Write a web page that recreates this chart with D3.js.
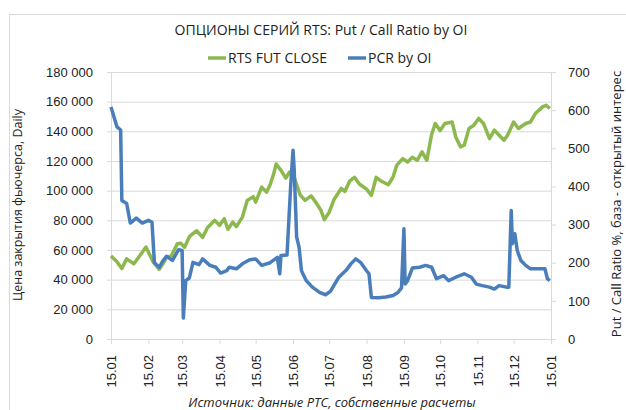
<!DOCTYPE html>
<html>
<head>
<meta charset="utf-8">
<script src="https://cdn.jsdelivr.net/npm/d3@7"></script>
<style>
  body { margin: 0; background: #fff; }
  svg { display: block; font-family: "Open Sans", "Noto Sans", sans-serif; }
</style>
</head>
<body>
<div id="chart"></div>
<script>
// RTS futures close (left axis)
var futDates = ["2015-01-15","2015-01-20","2015-01-24","2015-01-28","2015-02-03","2015-02-10","2015-02-13","2015-02-19","2015-02-24","2015-02-27",
  "2015-03-02","2015-03-06","2015-03-11","2015-03-14","2015-03-17","2015-03-21","2015-03-27","2015-04-01","2015-04-05","2015-04-11",
  "2015-04-15","2015-04-19","2015-04-22","2015-04-26","2015-04-29","2015-05-04","2015-05-08","2015-05-13","2015-05-15","2015-05-20",
  "2015-05-24","2015-05-27","2015-05-30","2015-06-01","2015-06-05","2015-06-09","2015-06-12","2015-06-15","2015-06-18","2015-06-21",
  "2015-06-25","2015-06-30","2015-07-04","2015-07-08","2015-07-11","2015-07-15","2015-07-19","2015-07-25","2015-07-28","2015-08-01",
  "2015-08-05","2015-08-09","2015-08-15","2015-08-19","2015-08-23","2015-08-27","2015-09-02","2015-09-06","2015-09-09","2015-09-14",
  "2015-09-18","2015-09-22","2015-09-26","2015-09-30","2015-10-04","2015-10-08","2015-10-11","2015-10-15","2015-10-19","2015-10-25",
  "2015-10-28","2015-11-01","2015-11-04","2015-11-08","2015-11-12","2015-11-16","2015-11-20","2015-11-25","2015-11-29","2015-12-03",
  "2015-12-07","2015-12-10","2015-12-15","2015-12-19","2015-12-25","2015-12-29","2016-01-02","2016-01-08","2016-01-11","2016-01-14"];
var futClose = [56000,52000,47500,54000,50700,58500,62000,52000,47000,50700,
  55000,56000,64200,64500,61900,69000,73000,68500,75000,80000,
  76600,81100,74000,78800,75800,82200,93400,96000,92300,102400,
  99000,104000,111500,118000,113700,108500,112500,111000,104000,97000,
  93500,96500,92000,87000,80500,85500,94000,101500,99500,106500,
  109000,104500,101000,96800,109000,106500,104000,109200,117100,121600,
  119300,122500,120500,126100,120500,138000,145300,140500,145300,146300,
  136200,129500,130600,141900,144100,148700,145300,135100,140800,137400,
  134000,137400,146300,141900,145300,146300,152000,156500,157600,155400];

// Put / Call ratio by open interest, % (right axis)
var pcrDates = ["2015-01-15","2015-01-20","2015-01-23","2015-01-24","2015-01-28","2015-01-31","2015-02-05","2015-02-10","2015-02-15","2015-02-18",
  "2015-02-20","2015-02-24","2015-02-27","2015-03-02","2015-03-07","2015-03-12","2015-03-15","2015-03-16","2015-03-18","2015-03-21",
  "2015-03-24","2015-03-29","2015-04-01","2015-04-07","2015-04-12","2015-04-16","2015-04-21","2015-04-23","2015-04-29","2015-05-04",
  "2015-05-10","2015-05-15","2015-05-20","2015-05-27","2015-06-02","2015-06-04","2015-06-05","2015-06-10","2015-06-13","2015-06-15",
  "2015-06-16","2015-06-18","2015-06-20","2015-06-22","2015-06-26","2015-07-01","2015-07-07","2015-07-12","2015-07-16","2015-07-23",
  "2015-07-29","2015-08-02","2015-08-06","2015-08-10","2015-08-15","2015-08-17","2015-08-19","2015-08-25","2015-08-31","2015-09-06",
  "2015-09-10","2015-09-13","2015-09-15","2015-09-16","2015-09-18","2015-09-22","2015-09-28","2015-10-03","2015-10-08","2015-10-12",
  "2015-10-18","2015-10-22","2015-10-28","2015-11-04","2015-11-10","2015-11-14","2015-11-19","2015-11-25","2015-11-29","2015-12-03",
  "2015-12-09","2015-12-11","2015-12-13","2015-12-14","2015-12-16","2015-12-18","2015-12-21","2015-12-25","2015-12-29","2016-01-10",
  "2016-01-12","2016-01-14"];
var pcrValues = [608,556,548,363,355,304,317,304,311,306,
  200,188,205,217,206,234,232,55,153,160,
  201,195,210,193,188,173,179,188,184,197,
  208,210,193,200,214,171,219,220,398,495,
  442,267,241,179,153,136,122,116,125,162,
  180,197,210,201,179,171,109,108,110,114,
  122,134,289,144,153,186,188,193,188,158,
  166,153,162,171,162,144,140,136,131,140,
  136,136,337,250,276,232,206,193,184,184,
  158,153];

var monthTicks = ["2015-01-15","2015-02-15","2015-03-15","2015-04-15","2015-05-15","2015-06-15","2015-07-15",
  "2015-08-15","2015-09-15","2015-10-15","2015-11-15","2015-12-15","2016-01-15"];
var leftTicks = [0,20000,40000,60000,80000,100000,120000,140000,160000,180000];
var rightTicks = [0,100,200,300,400,500,600,700];

var seriesNames = ["RTS FUT CLOSE", "PCR by OI"];
var titleText = "ОПЦИОНЫ СЕРИЙ RTS: Put / Call Ratio by OI";
var leftTitle = "Цена закрытия фьючерса, Daily";
var rightTitle = "Put / Call Ratio %, база - открытый интерес";
var sourceText = "Источник: данные РТС, собственные расчеты";

var parse = d3.timeParse("%Y-%m-%d");
var green = "#8cb84e", blue = "#4a7ebb";

var svgWidth = 626, svgHeight = 410;
var margin = {top: 72, left: 111, right: 75, bottom: 71};
var width = svgWidth - margin.left - margin.right;
var height = svgHeight - margin.top - margin.bottom;

var svg = d3.select("#chart").append("svg")
    .attr("width", svgWidth)
    .attr("height", svgHeight);

// outer chart frame
svg.append("rect")
    .attr("x", 9.5).attr("y", 14.5)
    .attr("width", 640).attr("height", 420)
    .attr("fill", "none").attr("stroke", "#d9d9d9");

var chartGroup = svg.append("g")
    .attr("transform", `translate(${margin.left}, ${margin.top})`);

var x = d3.scaleTime()
    .domain([parse(monthTicks[0]), parse(monthTicks[monthTicks.length - 1])])
    .range([0, width]);
var yLeft = d3.scaleLinear().domain([0, 180000]).range([height, 0]);
var yRight = d3.scaleLinear().domain([0, 700]).range([height, 0]);

var ru = d3.formatLocale({decimal: ",", thousands: " ", grouping: [3], currency: ["", ""]});

// gridlines
chartGroup.append("g")
    .selectAll("line")
    .data(leftTicks)
    .enter()
    .append("line")
    .attr("x1", -4).attr("x2", width)
    .attr("y1", d => yLeft(d) + 0.5).attr("y2", d => yLeft(d) + 0.5)
    .attr("stroke", "#d9d9d9");

// left axis
var leftAxis = chartGroup.append("g")
    .call(d3.axisLeft(yLeft).tickValues(leftTicks).tickFormat(ru.format(",")).tickSize(0).tickPadding(18));
leftAxis.select(".domain").attr("stroke", "#d9d9d9");
leftAxis.selectAll("text").attr("font-size", 13).attr("fill", "#222");

// right axis
var rightAxis = chartGroup.append("g")
    .attr("transform", `translate(${width}, 0)`)
    .call(d3.axisRight(yRight).tickValues(rightTicks).tickSize(5).tickPadding(12));
rightAxis.select(".domain").attr("stroke", "#d9d9d9");
rightAxis.selectAll("line").attr("stroke", "#d9d9d9");
rightAxis.selectAll("text").attr("font-size", 13).attr("fill", "#222");

// bottom axis
var bottomAxis = chartGroup.append("g")
    .attr("transform", `translate(0, ${height})`)
    .call(d3.axisBottom(x).tickValues(monthTicks.map(parse)).tickFormat(d3.timeFormat("%d.%m")).tickSize(5).tickPadding(6));
bottomAxis.select(".domain").attr("stroke", "#d9d9d9");
bottomAxis.selectAll("line").attr("stroke", "#d9d9d9");
bottomAxis.selectAll("text")
    .attr("font-size", 13).attr("fill", "#222")
    .attr("transform", "rotate(-90)")
    .attr("text-anchor", "end")
    .attr("x", -16).attr("y", 0).attr("dy", "0.35em");

// lines
var futData = futDates.map((d, i) => ({date: parse(d), value: futClose[i]}));
var pcrData = pcrDates.map((d, i) => ({date: parse(d), value: pcrValues[i]}));

var futLine = d3.line().x(d => x(d.date)).y(d => yLeft(d.value));
var pcrLine = d3.line().x(d => x(d.date)).y(d => yRight(d.value));

chartGroup.append("path")
    .datum(futData)
    .attr("d", futLine)
    .attr("fill", "none").attr("stroke", green)
    .attr("stroke-width", 3.5).attr("stroke-linejoin", "round");

chartGroup.append("path")
    .datum(pcrData)
    .attr("d", pcrLine)
    .attr("fill", "none").attr("stroke", blue)
    .attr("stroke-width", 3.5).attr("stroke-linejoin", "round");

// title
svg.append("text")
    .attr("x", 321).attr("y", 35)
    .attr("text-anchor", "middle")
    .attr("font-size", 14).attr("fill", "#222")
    .text(titleText);

// legend
var legendItems = [{name: seriesNames[0], color: green, x: 208}, {name: seriesNames[1], color: blue, x: 348}];
var legend = svg.append("g").selectAll("g")
    .data(legendItems)
    .enter()
    .append("g")
    .attr("transform", d => `translate(${d.x}, 58)`);
legend.append("line")
    .attr("x1", 0).attr("x2", 18).attr("y1", 0).attr("y2", 0)
    .attr("stroke", d => d.color).attr("stroke-width", 3.5);
legend.append("text")
    .attr("x", 20).attr("dy", "0.35em")
    .attr("font-size", 14).attr("fill", "#222")
    .text(d => d.name);

// axis titles
svg.append("text")
    .attr("transform", "translate(22, 205) rotate(-90)")
    .attr("text-anchor", "middle")
    .attr("font-size", 12.5).attr("fill", "#222")
    .text(leftTitle);

svg.append("text")
    .attr("transform", "translate(621, 204) rotate(-90)")
    .attr("text-anchor", "middle")
    .attr("font-size", 13).attr("fill", "#222")
    .text(rightTitle);

// source
svg.append("text")
    .attr("x", 332).attr("y", 407)
    .attr("text-anchor", "middle")
    .attr("font-size", 13).attr("font-style", "italic").attr("fill", "#222")
    .text(sourceText);
</script>
</body>
</html>
